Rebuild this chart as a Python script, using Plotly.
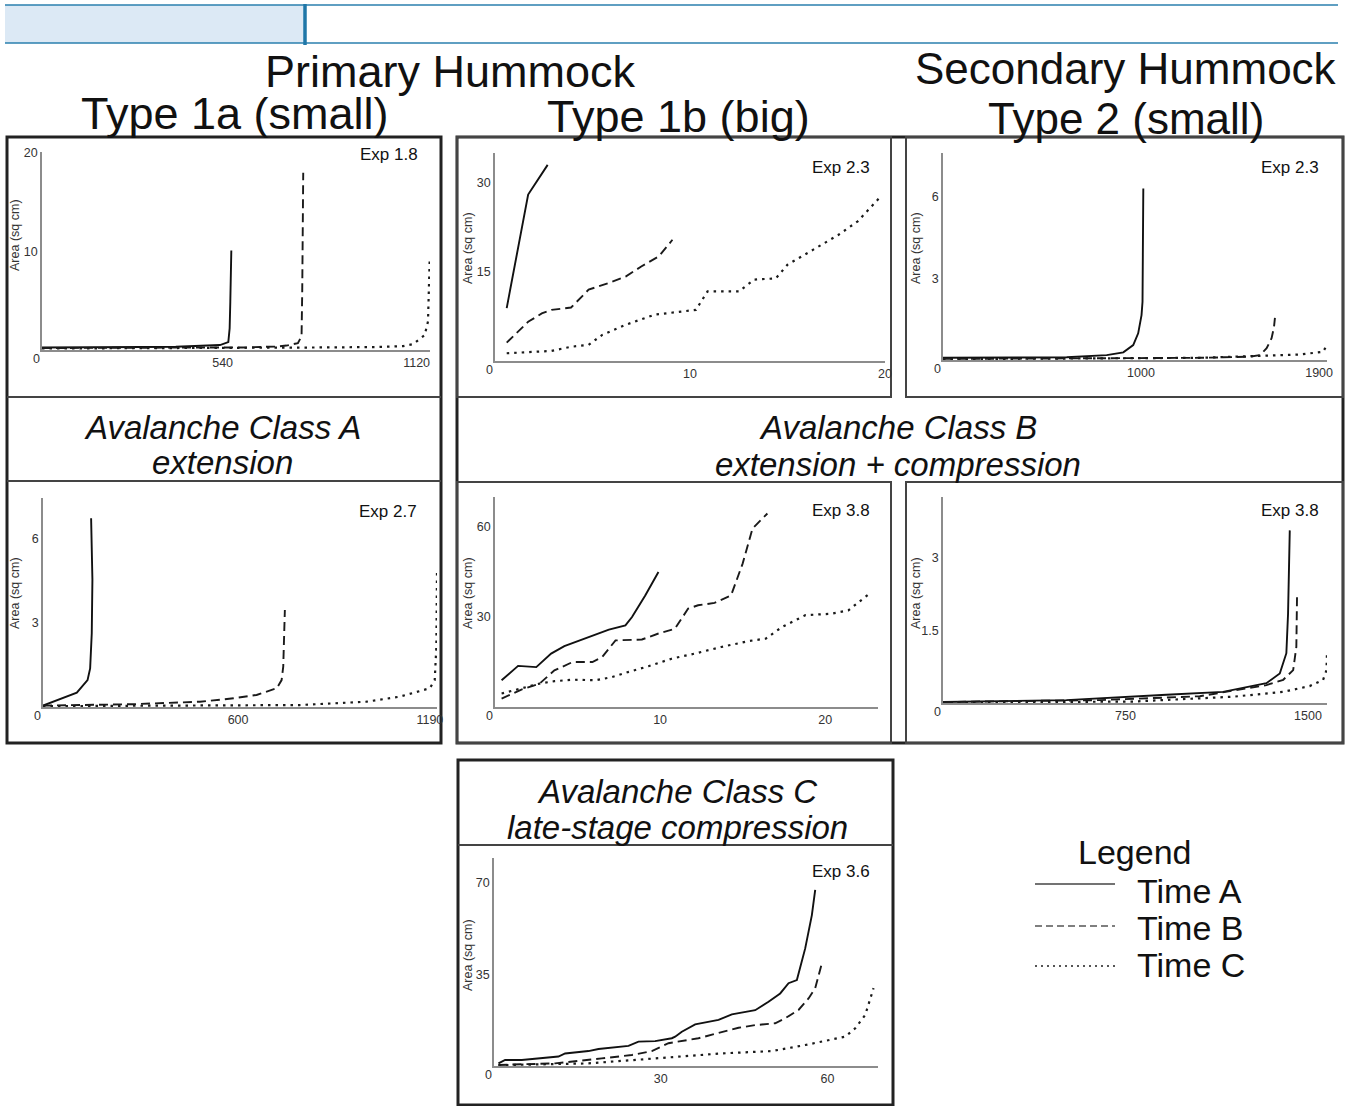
import plotly.graph_objects as go

W, H = 1365, 1106
FONT = "Arial, 'Liberation Sans', Helvetica, sans-serif"

# ---------------- data ----------------
# Panel 1: Type 1a, Exp 1.8
e18_A_x = [0, 100, 200, 300, 400, 472, 532, 557, 561, 563, 566]
e18_A_y = [0.25, 0.25, 0.28, 0.3, 0.33, 0.4, 0.5, 0.8, 2.2, 4.9, 10.1]
e18_B_x = [0, 200, 400, 600, 700, 731, 765, 776, 778, 781]
e18_B_y = [0.2, 0.2, 0.22, 0.26, 0.35, 0.45, 0.7, 1.4, 6.0, 18.0]
e18_C_x = [0, 300, 600, 800, 1000, 1080, 1109, 1144, 1154, 1159]
e18_C_y = [0.15, 0.17, 0.2, 0.25, 0.3, 0.4, 0.6, 1.5, 2.9, 9.1]

# Panel 2: Type 1b, Exp 2.3
e23b_A_x = [0.6, 1.7, 2.7]
e23b_A_y = [8.9, 28.0, 33.0]
e23b_B_x = [0.6, 1.7, 2.4, 2.9, 3.9, 4.8, 5.8, 6.7, 7.5, 8.4, 9.1]
e23b_B_y = [3.1, 6.6, 8.0, 8.6, 9.0, 12.0, 13.1, 14.2, 15.9, 17.6, 20.4]
e23b_C_x = [0.6, 2.2, 2.9, 3.9, 4.8, 5.5, 6.7, 8.2, 10.3, 10.9, 12.5, 13.3, 14.4, 15.0, 15.9, 17.6, 18.6, 19.7]
e23b_C_y = [1.3, 1.6, 1.7, 2.4, 2.7, 4.4, 6.1, 7.8, 8.6, 11.7, 11.7, 13.7, 13.9, 16.2, 17.9, 21.2, 23.5, 27.4]

# Panel 3: Type 2, Exp 2.3
e23s_A_x = [0, 300, 625, 827, 911, 961, 986, 1003, 1008, 1012]
e23s_A_y = [0.08, 0.08, 0.1, 0.18, 0.28, 0.55, 0.98, 1.65, 2.14, 6.3]
e23s_B_x = [0, 500, 1000, 1300, 1550, 1601, 1635, 1660, 1672, 1677]
e23s_B_y = [0.04, 0.05, 0.06, 0.08, 0.12, 0.18, 0.43, 0.8, 1.2, 1.55]
e23s_C_x = [0, 800, 1300, 1600, 1800, 1920, 1940]
e23s_C_y = [0.03, 0.05, 0.08, 0.15, 0.2, 0.3, 0.55]

# Panel 4: Type 1a, Exp 2.7
e27_A_x = [0, 104, 137, 145, 150, 152, 148]
e27_A_y = [0.05, 0.51, 0.96, 1.38, 2.63, 4.54, 6.74]
e27_B_x = [0, 278, 483, 586, 657, 719, 734, 739, 744]
e27_B_y = [0.05, 0.1, 0.19, 0.31, 0.43, 0.67, 0.96, 1.44, 3.46]
e27_C_x = [0, 381, 790, 995, 1098, 1190, 1205, 1210, 1212]
e27_C_y = [0.03, 0.04, 0.07, 0.19, 0.37, 0.67, 0.96, 2.15, 4.89]

# Panel 5: Type 1b, Exp 3.8
e38b_A_x = [0.4, 1.4, 2.5, 3.4, 4.2, 5.7, 6.9, 7.9, 8.3, 9.1, 9.9]
e38b_A_y = [8.9, 13.7, 13.3, 17.8, 20.3, 23.3, 25.8, 27.2, 30.0, 37.2, 45.0]
e38b_B_x = [0.4, 1.6, 2.7, 3.6, 4.7, 5.9, 6.5, 7.3, 8.9, 9.9, 10.9, 11.7, 12.3, 13.3, 14.3, 15.0, 15.6, 16.5]
e38b_B_y = [2.8, 5.8, 7.8, 12.2, 15.0, 15.0, 16.7, 22.2, 22.5, 24.5, 26.1, 32.8, 33.9, 34.7, 37.2, 47.8, 59.5, 64.5]
e38b_C_x = [0.4, 1.6, 2.7, 3.6, 4.7, 6.1, 7.1, 8.1, 9.3, 10.7, 12.1, 13.7, 15.4, 16.4, 17.4, 18.8, 20.4, 21.4, 22.8]
e38b_C_y = [4.5, 6.1, 7.8, 8.6, 9.1, 8.9, 10.0, 11.7, 13.6, 16.1, 17.8, 20.0, 22.0, 22.8, 26.7, 30.6, 31.1, 32.2, 38.3]

# Panel 6: Type 2, Exp 3.8
e38s_A_x = [0, 507, 918, 1151, 1329, 1384, 1411, 1418, 1425]
e38s_A_y = [0.02, 0.06, 0.17, 0.23, 0.41, 0.61, 1.03, 1.85, 3.57]
e38s_B_x = [0, 644, 1055, 1329, 1398, 1439, 1452, 1455]
e38s_B_y = [0.02, 0.06, 0.14, 0.37, 0.48, 0.68, 1.16, 2.27]
e38s_C_x = [0, 781, 1192, 1398, 1507, 1562, 1576, 1578]
e38s_C_y = [0.01, 0.03, 0.13, 0.23, 0.35, 0.48, 0.68, 1.06]

# Panel 7: Class C, Exp 3.6
e36_A_x = [0.8, 2, 5, 8, 11.6, 12.8, 17, 18.8, 24.2, 26, 29, 32, 32.6, 33.8, 36.2, 40.4, 42.8, 47, 49.4, 51.5, 53, 54.5, 56, 57.2, 57.8]
e36_A_y = [1.0, 2.3, 2.3, 2.9, 3.6, 4.8, 5.7, 6.5, 7.7, 9.3, 9.5, 10.6, 11.2, 13.1, 15.9, 17.6, 19.7, 21.3, 24.5, 27.7, 31.6, 32.8, 44.9, 57.6, 67.2]
e36_B_x = [0.8, 11, 19.4, 24.8, 28.4, 31.4, 36.8, 41, 44, 47, 50.6, 52.4, 54.8, 56.6, 57.8, 59]
e36_B_y = [0.4, 1.0, 2.9, 4.2, 5.7, 8.7, 10.6, 13.1, 14.6, 15.6, 16.3, 18.2, 21.4, 25.8, 29.7, 39.2]
e36_C_x = [0.8, 17, 29, 41, 50, 56, 63.2, 65, 66.8, 68.3]
e36_C_y = [0.3, 1.0, 2.9, 4.8, 5.7, 8.0, 11.2, 14.4, 19.5, 29.7]

# tick values / labels
x_ticks = [[540, 1120], [10, 20], [1000, 1900], [600, 1190], [10, 20], [750, 1500], [30, 60]]
y_ticks = [[10, 20], [15, 30], [3, 6], [3, 6], [30, 60], [1.5, 3], [35, 70]]
y_ticktext = [["10", "20"], ["15", "30"], ["3", "6"], ["3", "6"], ["30", "60"], ["1.5", "3"], ["35", "70"]]
exp_labels = ["Exp 1.8", "Exp 2.3", "Exp 2.3", "Exp 2.7", "Exp 3.8", "Exp 3.8", "Exp 3.6"]
series_names = ["Time A", "Time B", "Time C"]

series = [
    (e18_A_x, e18_A_y, e18_B_x, e18_B_y, e18_C_x, e18_C_y),
    (e23b_A_x, e23b_A_y, e23b_B_x, e23b_B_y, e23b_C_x, e23b_C_y),
    (e23s_A_x, e23s_A_y, e23s_B_x, e23s_B_y, e23s_C_x, e23s_C_y),
    (e27_A_x, e27_A_y, e27_B_x, e27_B_y, e27_C_x, e27_C_y),
    (e38b_A_x, e38b_A_y, e38b_B_x, e38b_B_y, e38b_C_x, e38b_C_y),
    (e38s_A_x, e38s_A_y, e38s_B_x, e38s_B_y, e38s_C_x, e38s_C_y),
    (e36_A_x, e36_A_y, e36_B_x, e36_B_y, e36_C_x, e36_C_y),
]

# ---------------- layout geometry (pixels) ----------------
# (origin_x, axis_end_x, top_y, base_y, x_max, y_max)
geom = [
    (42, 430, 152, 350, 1160, 20.1),
    (495, 885, 153, 361, 20, 35.0),
    (943, 1327, 153, 360, 1940, 7.6),
    (43, 437, 498, 707, 1212, 7.46),
    (495, 878, 497, 707, 23.2, 70),
    (943, 1327, 497, 703, 1578, 4.26),
    (494, 878, 858, 1066, 69.1, 79.4),
]
exp_pos = [(420, 155), (872, 167), (1321, 167), (419, 512), (872, 510), (1321, 510), (872, 871)]
ytitle_pos = [(15, 235), (468, 248), (916, 248), (15, 593), (468, 593), (916, 593), (468, 955)]


def fx(x):
    return x / W


def fy(y):
    return 1 - y / H


line_styles = [
    dict(color="#111111", width=1.9),
    dict(color="#1a1a1a", width=1.9, dash="9px,5px"),
    dict(color="#1a1a1a", width=2.2, dash="2.5px,5px"),
]

fig = go.Figure()
annotations = []
layout_axes = {}

for i, (g, s) in enumerate(zip(geom, series)):
    k = "" if i == 0 else str(i + 1)
    x0, x1, ytop, ybase, xmax, ymax = g
    for j in range(3):
        fig.add_trace(go.Scatter(
            x=s[2 * j], y=s[2 * j + 1], mode="lines", line=line_styles[j],
            name=series_names[j], showlegend=False, hoverinfo="skip",
            xaxis="x" + k, yaxis="y" + k,
        ))
    layout_axes["xaxis" + k] = dict(
        domain=[fx(x0), fx(x1)], range=[0, xmax], anchor="y" + k,
        showline=True, linecolor="#8c8c8c", linewidth=1.5,
        showgrid=False, zeroline=False, ticks="",
        tickvals=x_ticks[i], tickfont=dict(family=FONT, size=12.5, color="#333"),
        fixedrange=True,
    )
    layout_axes["yaxis" + k] = dict(
        domain=[fy(ybase), fy(ytop)], range=[0, ymax], anchor="x" + k,
        showline=True, linecolor="#8c8c8c", linewidth=1.5,
        showgrid=False, zeroline=False, ticks="",
        tickvals=y_ticks[i], ticktext=y_ticktext[i],
        tickfont=dict(family=FONT, size=12.5, color="#333"),
        fixedrange=True,
    )
    # origin "0"
    annotations.append(dict(
        x=0, y=0, xref="x" + k, yref="y" + k, text="0", showarrow=False,
        xanchor="center", yanchor="middle", xshift=-6, yshift=-9,
        font=dict(family=FONT, size=12.5, color="#333"),
    ))
    ex, ey = exp_pos[i]
    annotations.append(dict(
        x=fx(ex), y=fy(ey), xref="paper", yref="paper", text=exp_labels[i],
        showarrow=False, xanchor="right", yanchor="middle",
        font=dict(family=FONT, size=17, color="#111"),
    ))
    tx, ty = ytitle_pos[i]
    annotations.append(dict(
        x=fx(tx), y=fy(ty), xref="paper", yref="paper", text="Area (sq cm)",
        showarrow=False, xanchor="center", yanchor="middle", textangle=-90,
        font=dict(family=FONT, size=12.5, color="#333"),
    ))


def txt(x, y, t, size, anchor="center", color="#111"):
    annotations.append(dict(
        x=fx(x), y=fy(y), xref="paper", yref="paper", text=t, showarrow=False,
        xanchor=anchor, yanchor="middle", font=dict(family=FONT, size=size, color=color),
    ))


# column titles
txt(450, 71, "Primary Hummock", 45)
txt(235, 113, "Type 1a (small)", 45)
txt(678, 117, "Type 1b (big)", 45)
txt(1126, 69, "Secondary Hummock", 44)
txt(1126, 118, "Type 2 (small)", 44)

# class headers
txt(222, 427, "<i>Avalanche Class A</i>", 33)
txt(222, 462, "<i>extension</i>", 33)
txt(898, 428, "<i>Avalanche Class B</i>", 33)
txt(898, 464, "<i>extension + compression</i>", 33)
txt(677, 791, "<i>Avalanche Class C</i>", 33)
txt(677, 827, "<i>late-stage compression</i>", 33)

# legend
txt(1134, 852, "Legend", 34)
legend_rows = [(884, 891), (926, 928), (966, 965)]
for (ly, ty), nm in zip(legend_rows, series_names):
    txt(1135, ty, nm, 34, anchor="left")

shapes = []


def rect(x0, y0, x1, y1, w, color, fill=None):
    d = dict(type="rect", xref="paper", yref="paper",
             x0=fx(x0), x1=fx(x1), y0=fy(y1), y1=fy(y0),
             line=dict(width=w, color=color), layer="below")
    if fill:
        d["fillcolor"] = fill
    shapes.append(d)


def hline(x0, x1, y, w, color, dash=None):
    ln = dict(width=w, color=color)
    if dash:
        ln["dash"] = dash
    shapes.append(dict(type="line", xref="paper", yref="paper",
                       x0=fx(x0), x1=fx(x1), y0=fy(y), y1=fy(y), line=ln))


def vline(x, y0, y1, w, color):
    shapes.append(dict(type="line", xref="paper", yref="paper",
                       x0=fx(x), x1=fx(x), y0=fy(y0), y1=fy(y1), line=dict(width=w, color=color)))


# header band
rect(5, 5, 304, 43, 0, "rgba(0,0,0,0)", fill="#dce9f5")
hline(5, 1338, 5, 1.5, "#2a7fae")
hline(5, 1338, 43, 1.5, "#2a7fae")
vline(305, 4, 45, 3.5, "#1f77a8")

# left column box
rect(7, 137, 441, 743, 3, "#222")
hline(7, 441, 397, 2, "#444")
hline(7, 441, 481, 2, "#444")

# middle / right block
rect(457, 137, 1343, 743, 3, "#222")
rect(457, 137, 891, 397, 2, "#444")
rect(906, 137, 1343, 397, 2, "#444")
rect(457, 482, 891, 743, 2, "#444")
rect(906, 482, 1343, 743, 2, "#444")

# class C box
rect(458, 760, 893, 1105, 3, "#222")
hline(458, 893, 845, 2, "#444")

# legend lines
hline(1035, 1115, 884, 1.6, "#444")
hline(1035, 1115, 926, 1.6, "#555", dash="7px,4px")
hline(1035, 1115, 966, 1.8, "#555", dash="2px,4px")

fig.update_layout(
    width=W, height=H, margin=dict(l=0, r=0, t=0, b=0),
    template="none", paper_bgcolor="white", plot_bgcolor="rgba(0,0,0,0)",
    showlegend=False, annotations=annotations, shapes=shapes,
    font=dict(family=FONT),
    **layout_axes,
)

fig.write_html(
    "out.html",
    config={"displayModeBar": False},
    post_script=(
        "document.body.style.margin='0';document.body.style.padding='0';"
        "document.documentElement.style.overflow='hidden';"
    ),
)
